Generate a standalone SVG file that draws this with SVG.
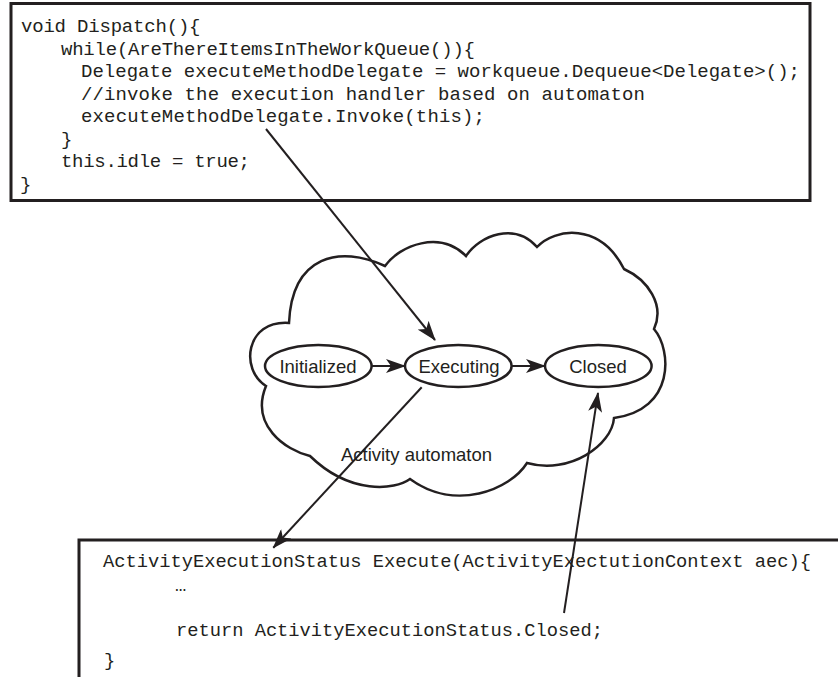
<svg xmlns="http://www.w3.org/2000/svg" width="838" height="677" viewBox="0 0 838 677">
<style>
.box{fill:#fff;stroke:#231f20;stroke-width:3}
.code{font-family:"Liberation Mono","Courier New",monospace;font-size:19px;fill:#231f20}
.code2{font-family:"Liberation Mono","Courier New",monospace;font-size:18.75px;fill:#231f20}
.lbl{font-family:"Liberation Sans",Arial,sans-serif;font-size:18.5px;fill:#231f20}
.st{fill:#fff;stroke:#231f20;stroke-width:2.5}
.cloud{fill:#fff;stroke:#231f20;stroke-width:2.5;stroke-linejoin:miter}
.conn{fill:none;stroke:#231f20;stroke-width:2;marker-end:url(#ah)}
</style>
<defs>
<marker id="ah" viewBox="0 0 20 14" refX="19" refY="7" markerWidth="20" markerHeight="14" markerUnits="userSpaceOnUse" orient="auto">
<path d="M0,0 L20,7 L0,14 L5,7 z" fill="#231f20"/>
</marker>
</defs>
<rect width="838" height="677" fill="#fff"/>
<g id="dispatch">
<rect class="box" x="11" y="3.5" width="799" height="197"/>
<text class="code" x="21" y="32" textLength="179.5" lengthAdjust="spacing">void Dispatch(){</text>
<text class="code" x="61" y="54.5" textLength="414" lengthAdjust="spacing">while(AreThereItemsInTheWorkQueue()){</text>
<text class="code" x="81" y="77" textLength="719" lengthAdjust="spacing">Delegate executeMethodDelegate = workqueue.Dequeue&lt;Delegate&gt;();</text>
<text class="code" x="81" y="99.5" textLength="564" lengthAdjust="spacing">//invoke the execution handler based on automaton</text>
<text class="code" x="81" y="122" textLength="404" lengthAdjust="spacing">executeMethodDelegate.Invoke(this);</text>
<text class="code" x="61" y="144.5">}</text>
<text class="code" x="61" y="167" textLength="189" lengthAdjust="spacing">this.idle = true;</text>
<text class="code" x="20" y="189.5">}</text>
</g>
<g id="automaton">
<path class="cloud" d="M289,323 C292,255 340,245 385,266 C400,245 440,230 466,256 C480,235 515,222 537,247 C555,228 600,222 624,269 C648,280 665,305 654,329 C672,350 675,410 614,418 C612,445 570,475 527,463 C510,490 455,512 410,479 C395,490 350,495 310,456 C285,450 250,425 266,386 C240,370 245,320 289,323 Z"/>
<text class="lbl" x="416.5" y="461" text-anchor="middle">Activity automaton</text>
</g>
<g id="initialized">
<ellipse class="st" cx="318.3" cy="366" rx="53.3" ry="21"/>
<text class="lbl" x="318" y="372.5" text-anchor="middle">Initialized</text>
</g>
<g id="executing">
<ellipse class="st" cx="458.3" cy="366" rx="53.3" ry="21"/>
<text class="lbl" x="459" y="372.5" text-anchor="middle">Executing</text>
</g>
<g id="closed">
<ellipse class="st" cx="598.3" cy="366" rx="53.3" ry="21"/>
<text class="lbl" x="598" y="372.5" text-anchor="middle">Closed</text>
</g>
<g id="execute">
<rect class="box" x="79" y="540" width="800" height="200"/>
<text class="code2" x="103" y="567" textLength="708" lengthAdjust="spacing">ActivityExecutionStatus Execute(ActivityExectutionContext aec){</text>
<text class="code2" x="175" y="591">…</text>
<text class="code2" x="176" y="636" textLength="427" lengthAdjust="spacing">return ActivityExecutionStatus.Closed;</text>
<text class="code2" x="104" y="666">}</text>
</g>
<g id="connectors">
<line class="conn" x1="266" y1="129" x2="435" y2="340"/>
<line class="conn" x1="372" y1="366" x2="405" y2="366"/>
<line class="conn" x1="512" y1="366" x2="545" y2="366"/>
<line class="conn" x1="421.7" y1="387.3" x2="273.3" y2="547.7"/>
<line class="conn" x1="564" y1="613" x2="598" y2="393"/>
</g>
</svg>
